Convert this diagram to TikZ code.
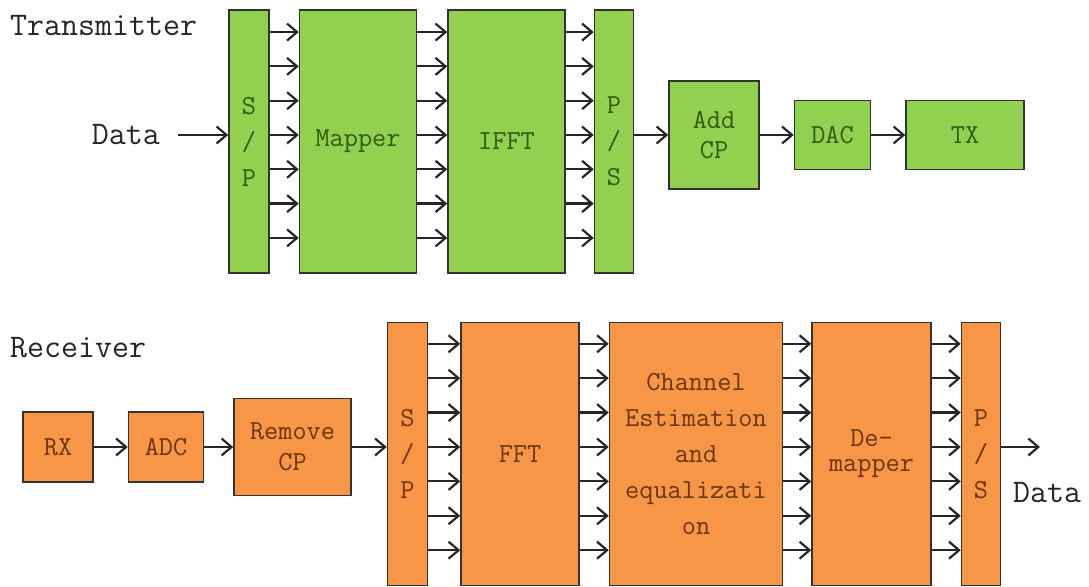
\documentclass[tikz,border=0pt]{standalone}
\usepackage{fontspec}
\usepackage{xcolor}
\usepackage{tikz}
\usetikzlibrary{arrows.meta,positioning,calc}
\newfontfamily\diagfont{Latin Modern Mono}
\definecolor{txfill}{HTML}{92D050}
\definecolor{rxfill}{HTML}{F79646}
\definecolor{txtext}{HTML}{2F5A12}
\definecolor{rxtext}{HTML}{6A3510}
\definecolor{edge}{HTML}{333333}
\tikzset{
  box/.style={draw=edge, line width=1.5pt, align=center, inner sep=0pt,
              font=\diagfont\fontsize{27.5}{36}\selectfont},
  txbox/.style={box, fill=txfill, text=txtext},
  rxbox/.style={box, fill=rxfill, text=rxtext},
  tall/.style={minimum height=263pt},
  flow/.style={-{Straight Barb[length=10pt,width=17pt]}, line width=2.2pt,
               draw=black!85},
  lbl/.style={font=\diagfont\fontsize{33}{40}\selectfont, text=black!85,
              inner sep=0pt},
}

\begin{document}
\begin{tikzpicture}[x=1pt, y=1pt]
  \useasboundingbox (0,0) rectangle (1089,586);
  % row levels
  \coordinate (trow) at (0,451);
  \coordinate (rrow) at (0,139);
  % transmitter
  \node[lbl, anchor=west] (tlbl) at (10,560) {Transmitter};
  \node[lbl, anchor=east] (tin) at (160,451) {Data};
  \node[txbox, tall, minimum width=40pt] (tsp) at (249,444.5) {S\\/\\P};
  \node[txbox, tall, minimum width=117pt, right=29pt of tsp] (tmap) {Mapper};
  \node[txbox, tall, minimum width=117pt, right=30pt of tmap] (tifft) {IFFT};
  \node[txbox, tall, minimum width=39pt, right=28pt of tifft] (tps) {P\\/\\S};
  \node[txbox, minimum width=90pt, minimum height=108pt, right=34pt of tps,
        yshift=6.5pt, font=\diagfont\fontsize{27.5}{30}\selectfont] (tcp) {Add\\CP};
  \node[txbox, minimum width=76pt, minimum height=69pt, right=34pt of tcp] (tdac) {DAC};
  \node[txbox, minimum width=118pt, minimum height=69pt, right=34pt of tdac] (ttx) {TX};
  % receiver
  \node[lbl, anchor=west] (rlbl) at (10,238) {Receiver};
  \node[rxbox, minimum width=70pt, minimum height=70pt] (rrx) at (58,139) {RX};
  \node[rxbox, minimum width=75pt, minimum height=70pt, right=34pt of rrx] (radc) {ADC};
  \node[rxbox, minimum width=117pt, minimum height=97pt, right=29pt of radc,
        font=\diagfont\fontsize{27.5}{31}\selectfont] (rcp) {Remove\\CP};
  \node[rxbox, tall, minimum width=40pt, right=35pt of rcp, yshift=-7pt] (rsp) {S\\/\\P};
  \node[rxbox, tall, minimum width=118pt, right=32pt of rsp] (rfft) {FFT};
  \node[rxbox, tall, minimum width=173pt, right=29pt of rfft] (rch)
    {Channel\\Estimation\\and\\equalizati\\on};
  \node[rxbox, tall, minimum width=119pt, right=28pt of rch,
        font=\diagfont\fontsize{27.5}{25}\selectfont] (rdem) {De-\\mapper};
  \node[rxbox, tall, minimum width=39pt, right=29pt of rdem] (rps) {P\\/\\S};
  \coordinate (rout) at (1040,139);
  \node[lbl, anchor=west] (rdata) at (1013,93) {Data};
  % serial links
  \draw[flow, shorten <=18pt] (tin.east) -- (tsp.west |- trow);
  \draw[flow] (tps.east |- trow) -- (tcp);
  \draw[flow] (tcp) -- (tdac);
  \draw[flow] (tdac) -- (ttx);
  \draw[flow] (rrx) -- (radc);
  \draw[flow] (radc) -- (rcp);
  \draw[flow] (rcp) -- (rsp.west |- rrow);
  \draw[flow] (rps.east |- rrow) -- (rout);
  % parallel links
  \foreach \a/\b in {tsp/tmap, tmap/tifft, tifft/tps}
    \foreach \k in {-3,...,3}
      \draw[flow] ($(\a.east |- trow)+(0,\k*34.3)$) -- ($(\b.west |- trow)+(0,\k*34.3)$);
  \foreach \a/\b in {rsp/rfft, rfft/rch, rch/rdem, rdem/rps}
    \foreach \k in {-3,...,3}
      \draw[flow] ($(\a.east |- rrow)+(0,\k*34.4)$) -- ($(\b.west |- rrow)+(0,\k*34.4)$);
\end{tikzpicture}
\end{document}
